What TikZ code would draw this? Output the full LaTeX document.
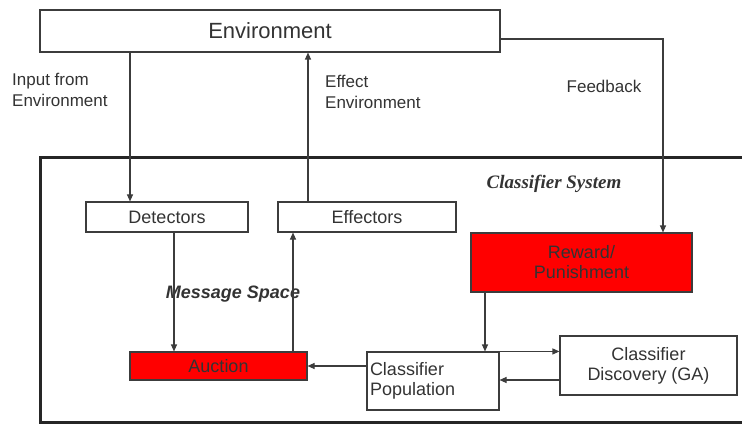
\documentclass[tikz,border=0pt]{standalone}
\usepackage{fontspec}
\setmainfont{Liberation Sans}
\newfontfamily\timesfont{Liberation Serif}
\usetikzlibrary{arrows.meta}
\definecolor{boxred}{RGB}{255,0,0}
\definecolor{ink}{RGB}{60,60,60}
\tikzset{
    block/.style={draw=ink, line width=1.1pt, rectangle, inner sep=0pt, text=black!80,
        font=\fontsize{18}{20}\selectfont, align=center},
    redblock/.style={block, fill=boxred},
    lbl/.style={text=black!80, font=\fontsize{17}{21}\selectfont, align=left, inner sep=0pt},
    conn/.style={draw=ink, line width=1.1pt, -{Triangle[length=7pt,width=6pt]}}
}
\begin{document}
\begin{tikzpicture}[x=1pt, y=-1pt]
        \useasboundingbox (0,0) rectangle (742,425);
        % outer frame of the classifier system
        \draw [line width=3pt, black!85] (750,158) -- (40,158) -- (40,422) -- (750,422);
        \begin{scope}[every node/.style={block}]
            \node (env) [minimum width=460pt, minimum height=42pt, font=\fontsize{22}{24}\selectfont] at (270,31) {Environment};
            \node (det) [minimum width=162pt, minimum height=30pt] at (167,217) {Detectors};
            \node (eff) [minimum width=178pt, minimum height=30pt] at (367,217) {Effectors};
            \node (pop) [minimum width=132pt, minimum height=58pt, text width=126pt, align=left] at (433,381) {Classifier\\Population};
            \node (dis) [minimum width=177pt, minimum height=59pt] at (648.5,365.5) {Classifier\\Discovery (GA)};
        \end{scope}
        \begin{scope}[every node/.style={redblock}]
            \node (rew) [minimum width=221pt, minimum height=59pt] at (581.5,262.5) {Reward/\\Punishment};
            \node (auc) [minimum width=177pt, minimum height=28pt] at (218.5,366) {Auction};
        \end{scope}
        \begin{scope}[every node/.style={lbl}]
            \node (inlbl) [anchor=north west] at (12,73) {Input from\\Environment};
            \node (efflbl) [anchor=north west] at (325,75) {Effect\\Environment};
            \node (fblbl) at (604,86) {Feedback};
            \node (cslbl) at (554,184) {\timesfont\bfseries\itshape\fontsize{19}{21}\selectfont Classifier System};
            \node (mslbl) at (233,294) {\bfseries\itshape\fontsize{18}{20}\selectfont Message Space};
        \end{scope}
        \draw [conn] (env.south -| 130,0) -- (det.north -| 130,0);
        \draw [conn] (eff.north -| 308,0) -- (env.south -| 308,0);
        \draw [conn] ([yshift=-8pt]env.east) -| (rew.north -| 663,0);
        \draw [conn] (det.south -| 174,0) -- (auc.north -| 174,0);
        \draw [conn] (auc.north -| 293,0) -- (eff.south -| 293,0);
        \draw [conn] (pop.west |- auc.east) -- (auc.east);
        \draw [conn] (rew.south -| 485,0) -- (pop.north -| 485,0);
        \draw [conn] (pop.north east) -- (dis.west |- pop.north east);
        \draw [conn] (dis.west |- 0,380) -- (pop.east |- 0,380);
    \end{tikzpicture}
\end{document}
